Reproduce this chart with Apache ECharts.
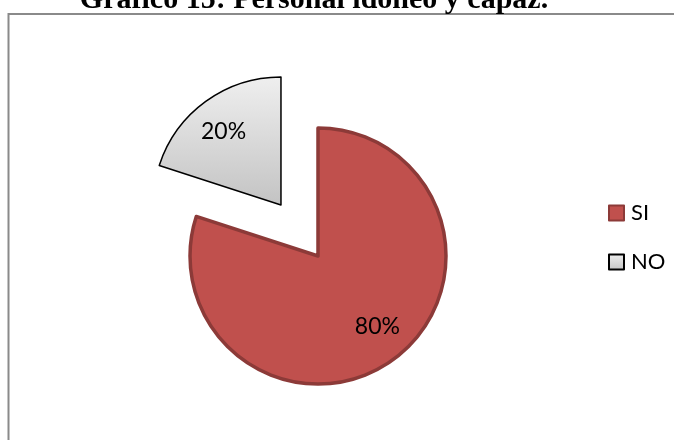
<!DOCTYPE html>
<html>
<head>
<meta charset="utf-8">
<style>
  html, body { margin: 0; padding: 0; background: #ffffff; }
  #chart { width: 674px; height: 440px; }
</style>
<script src="https://cdn.jsdelivr.net/npm/echarts@6/dist/echarts.min.js"></script>
</head>
<body>
<div id="chart"></div>
<script>
// Encuesta: personal idóneo y capaz
const titleText = 'Gráfico 15: Personal idóneo y capaz.';
const categories = ['SI', 'NO'];
const values = [80, 20];

const fills = [
  '#C0504D',
  new echarts.graphic.LinearGradient(0, 0, 0, 1, [
    { offset: 0, color: '#EFEFEF' },
    { offset: 1, color: '#C3C3C3' }
  ])
];
const borders = ['#8C3A38', '#000000'];
const borderWidths = [3.5, 1.5];
// label nudges so each percentage sits along its slice bisector
const labelOffsets = [[20, 16], [-18, -19]];

const chart = echarts.init(document.getElementById('chart'), null, { renderer: 'canvas' });

const data = categories.map((name, i) => ({
  name: name,
  value: values[i],
  selected: i === 1,
  itemStyle: { color: fills[i], borderColor: borders[i], borderWidth: borderWidths[i] },
  label: { offset: labelOffsets[i] },
  select: {
    itemStyle: { color: fills[i], borderColor: borders[i], borderWidth: borderWidths[i] },
    label: { offset: labelOffsets[i] }
  }
}));

chart.setOption({
  animation: false,
  title: {
    text: titleText,
    left: 309,
    textAlign: 'center',
    top: -20,
    textStyle: {
      fontFamily: 'Liberation Serif',
      fontWeight: 'bold',
      fontSize: 30,
      color: '#000000'
    }
  },
  graphic: [{
    type: 'rect',
    silent: true,
    shape: { x: 8.5, y: 14, width: 720, height: 480 },
    style: { fill: 'none', stroke: '#8A8A8A', lineWidth: 2 }
  }],
  legend: {
    orient: 'vertical',
    left: 603,
    top: 196,
    itemGap: 25,
    itemWidth: 15,
    itemHeight: 15,
    icon: 'rect',
    selectedMode: false,
    textStyle: { fontFamily: 'Lato', fontSize: 22, lineHeight: 24, color: '#000000', padding: [0, 0, 0, 2] },
    data: categories
  },
  series: [{
    type: 'pie',
    center: [318, 256],
    radius: 128,
    startAngle: 90,
    clockwise: true,
    selectedMode: 'single',
    selectedOffset: 63,
    avoidLabelOverlap: false,
    emphasis: { disabled: true },
    label: {
      show: true,
      position: 'inside',
      formatter: '{c}%',
      fontFamily: 'Lato',
      fontSize: 23,
      color: '#000000'
    },
    labelLine: { show: false },
    data: data
  }]
});
</script>
</body>
</html>
